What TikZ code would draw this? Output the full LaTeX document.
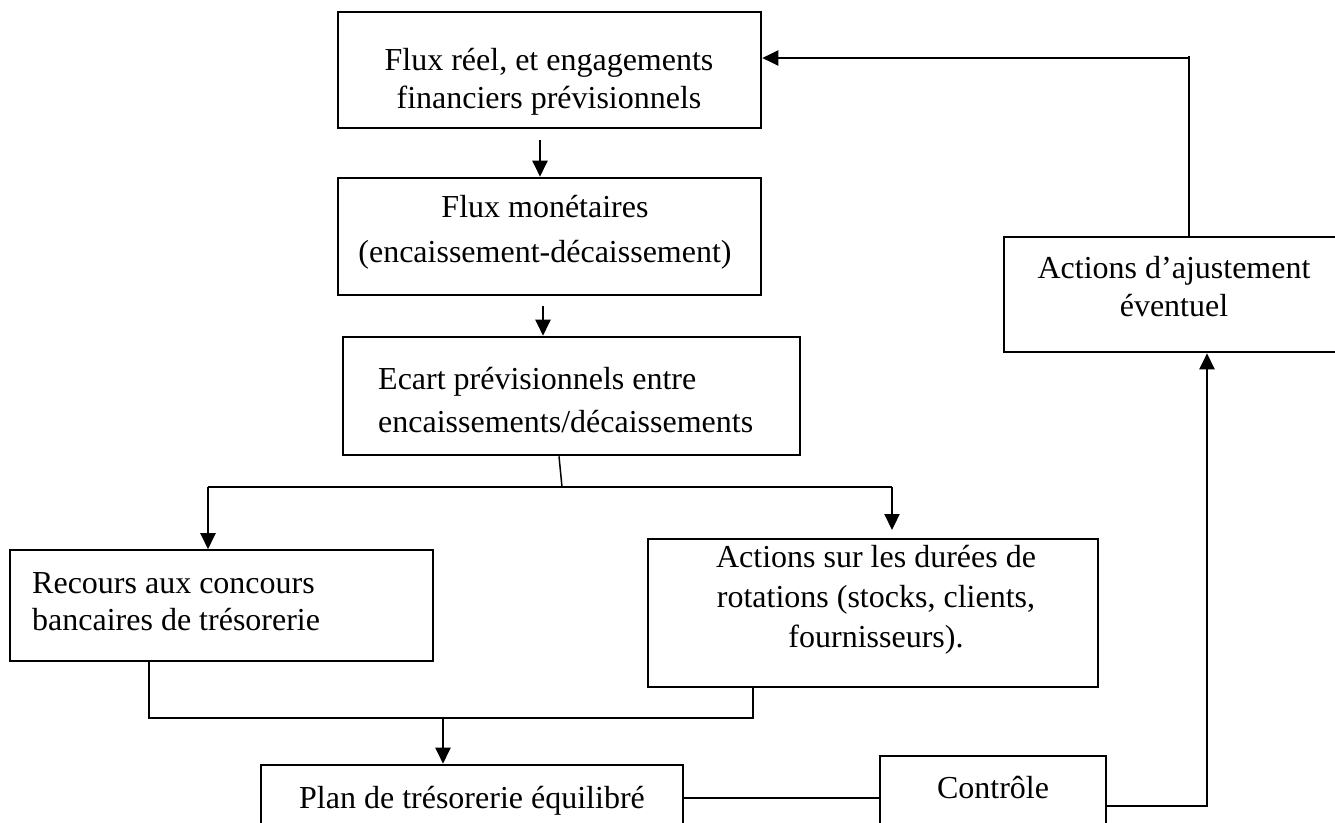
\documentclass[tikz,border=0pt]{standalone}
\usepackage{fontspec}
\setmainfont{Liberation Serif}
\usetikzlibrary{arrows.meta,calc}
\newcommand\mlines[2]{\begin{tabular}[t]{@{}#1@{}}#2\end{tabular}}
\begin{document}
\begin{tikzpicture}[x=1pt,y=-1pt,
  box/.style={draw, line width=2.6pt, rectangle, inner sep=0pt},
  lbox/.style={draw, line width=1.6pt, rectangle, inner sep=0pt},
  txt/.style={font=\fontsize{32}{37}\selectfont, inner sep=0pt, anchor=base},
  txtl/.style={txt, anchor=base west},
  arr/.style={line width=2.2pt, -{Triangle[length=16pt,width=15pt]}},
  conn/.style={line width=1.5pt}]
\useasboundingbox (0,0) rectangle (1335,822);
% boxes
\node[box, minimum width=423pt, minimum height=116pt] (b1) at (549.5,70) {};
\node[box, minimum width=423pt, minimum height=117pt] (b2) at (549.5,236.5) {};
\node[box, minimum width=457pt, minimum height=118pt] (b3) at (571.5,396) {};
\node[lbox, minimum width=423pt, minimum height=111pt] (b4) at (221.5,605.5) {};
\node[box, minimum width=450pt, minimum height=148pt] (b5) at (873,613) {};
\node[box, minimum width=422pt, minimum height=95pt] (b6) at (472,812.5) {};
\node[box, minimum width=226pt, minimum height=104pt] (b7) at (993,808) {};
\node[box, minimum width=346pt, minimum height=115pt] (b8) at (1177,294.5) {};
% texts
\node[txt] (t1) at (549,70) {\mlines{c}{Flux réel, et engagements\\[1pt]financiers prévisionnels}};
\node[txt] (t2) at (545,217) {\mlines{c}{Flux monétaires\\[8pt](encaissement-décaissement)}};
\node[txtl] (t3) at (378,389) {\mlines{l}{Ecart prévisionnels entre\\[6pt]encaissements/décaissements}};
\node[txtl] (t4) at (32,593) {\mlines{l}{Recours aux concours\\bancaires de trésorerie}};
\node[txt] (t5) at (876,567) {\mlines{c}{Actions sur les durées de\\[3pt]rotations (stocks, clients,\\[3pt]fournisseurs).}};
\node[txt] (t6) at (472,808) {Plan de trésorerie équilibré};
\node[txt] (t7) at (993,798) {Contrôle};
\node[txt] (t8) at (1174,278) {\mlines{c}{Actions d’ajustement\\[1pt]éventuel}};
% connectors
\coordinate (c1) at (540,140);
\draw[arr] (c1) -- (c1 |- b2.north);
\coordinate (c2) at (543,306);
\draw[arr] (c2) -- (c2 |- b3.north);
\coordinate (c3) at (562,487);
\draw[conn] ([xshift=-12.5pt]b3.south) -- (c3);
\coordinate (hl) at (208,487);
\coordinate (hr) at (892,487);
\draw[conn] (hl) -- (hr);
\draw[arr] (hl) -- (hl |- b4.north);
\coordinate (hr2) at (892,530);
\draw[arr] (hr) -- (hr2);
\coordinate (j) at (443,718);
\draw[conn] ([xshift=-72.5pt]b4.south) |- ([xshift=-120pt]b5.south |- j) -- ([xshift=-120pt]b5.south);
\draw[arr] (j) -- (j |- b6.north);
\coordinate (pc) at (780,798);
\draw[conn] (b6.east |- pc) -- (b7.west |- pc);
\coordinate (k) at (1207,806);
\draw[arr] (b7.east |- k) -- (k) -- (k |- b8.south);
\coordinate (m) at (1189,58);
\draw[conn] (b8.north -| m) -- ([yshift=2pt]m);
\draw[arr] (m) -- (m -| b1.east);
\end{tikzpicture}
\end{document}
